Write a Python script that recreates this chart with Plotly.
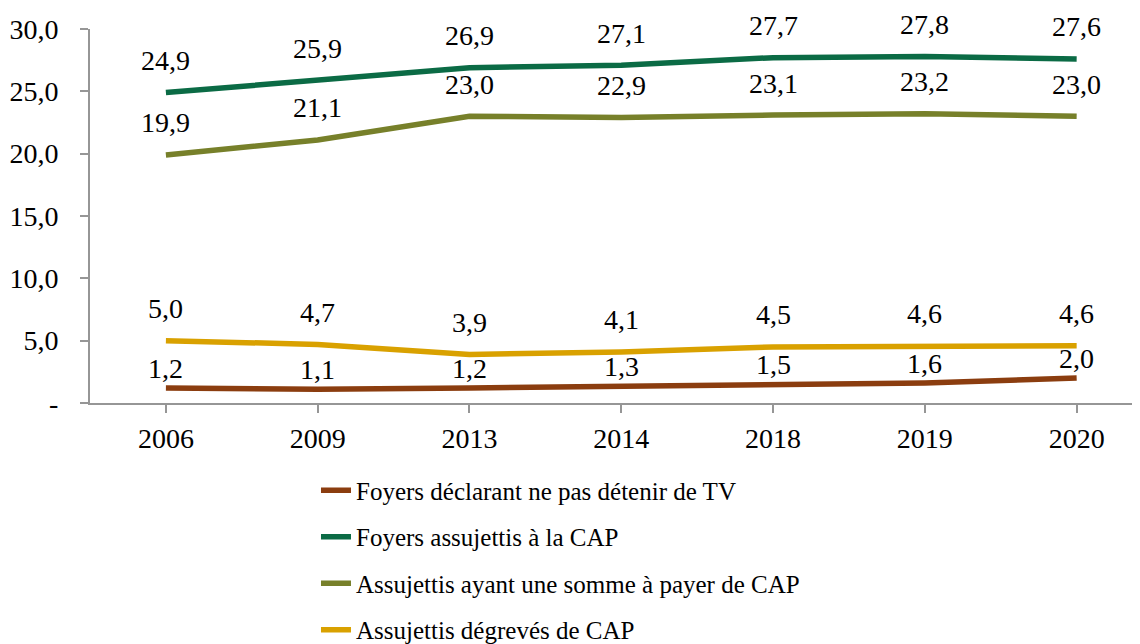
import plotly.graph_objects as go

years = ["2006", "2009", "2013", "2014", "2018", "2019", "2020"]
sans_tv = [1.2, 1.1, 1.2, 1.3, 1.5, 1.6, 2.0]
assujettis = [24.9, 25.9, 26.9, 27.1, 27.7, 27.8, 27.6]
a_payer = [19.9, 21.1, 23.0, 22.9, 23.1, 23.2, 23.0]
degreves = [5.0, 4.7, 3.9, 4.1, 4.5, 4.6, 4.6]

names = ["Foyers déclarant ne pas détenir de TV", "Foyers assujettis à la CAP",
         "Assujettis ayant une somme à payer de CAP", "Assujettis dégrevés de CAP"]
series = [sans_tv, assujettis, a_payer, degreves]
colors = ["#8B3D0F", "#0B6B45", "#77802A", "#D9A100"]
label_shift = [20, 32, 32, 32]

y_ticks = [0, 5, 10, 15, 20, 25, 30]
y_ticktext = ["-", "5,0", "10,0", "15,0", "20,0", "25,0", "30,0"]

FONT = "Liberation Serif"

fig = go.Figure()
annotations = []
for i, (nm, vals, col) in enumerate(zip(names, series, colors)):
    fig.add_trace(go.Scatter(
        x=list(range(len(years))), y=vals, name=nm, mode="lines",
        line=dict(color=col, width=5.5), legendgroup=str(i),
    ))
    for j, v in enumerate(vals):
        annotations.append(dict(
            x=j, y=v, xref="x", yref="y", text=f"{v:.1f}".replace(".", ","),
            showarrow=False, yshift=label_shift[i],
            font=dict(family=FONT, size=28, color="#000"),
        ))

fig.update_layout(
    width=1140, height=644,
    margin=dict(l=82, r=0, t=21, b=249, autoexpand=False),
    paper_bgcolor="white", plot_bgcolor="white",
    font=dict(family=FONT, size=28, color="#000"),
    showlegend=True,
    legend=dict(x=0.2136, xanchor="left", y=-0.1723, yanchor="top",
                orientation="v", tracegroupgap=11, itemwidth=30,
                font=dict(family=FONT, size=25, color="#000")),
    annotations=annotations,
)
fig.update_xaxes(
    range=[-0.5, 6.47], tickvals=list(range(len(years))), ticktext=years,
    showline=True, linecolor="#969696", linewidth=2, ticks="outside",
    tickson="boundaries", ticklen=8, tickcolor="#969696", tickwidth=2,
    showgrid=False, zeroline=False, ticklabelstandoff=1,
)
fig.update_yaxes(
    range=[0, 30], tickvals=y_ticks, ticktext=y_ticktext,
    showline=True, linecolor="#969696", linewidth=2, ticks="outside",
    ticklen=8, tickcolor="#969696", tickwidth=2, showgrid=False,
    zeroline=False, ticklabelstandoff=16,
)

fig.write_html("out.html")
